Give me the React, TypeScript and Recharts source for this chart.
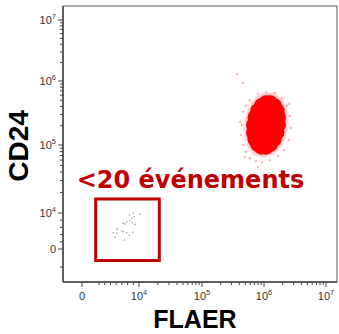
import React from 'react';
import { ScatterChart, Scatter, XAxis, YAxis, ReferenceArea } from 'recharts';

// raw intensities (FLAER on x, CD24 on y)
// outline of the dense population, going round from its right side
const mainFlaer = [
  1.68e6, 1.68e6, 1.6e6, 1.44e6, 1.26e6, 1.08e6, 9.25e5, 8.05e5, 7.29e5,
  6.9e5, 6.9e5, 7.27e5, 8.03e5, 9.18e5, 1.07e6, 1.25e6, 1.44e6, 1.59e6,
  1.12e6, 1.08e6, 1.04e6,
];
const mainCd24 = [
  2.05e5, 2.69e5, 3.41e5, 4.08e5, 4.48e5, 4.48e5, 4.08e5, 3.41e5, 2.69e5,
  2.05e5, 1.57e5, 1.24e5, 1.03e5, 9.44e4, 9.44e4, 1.03e5, 1.24e5, 1.57e5,
  2.94e5, 2.05e5, 1.43e5,
];

const edgeFlaer = [
  4.6e5, 4.4e5, 4.26e5, 4.6e5, 5.1e5, 5.9e5, 7.4e5, 9.3e5, 1.25e6, 1.68e6, 2.1e6,
  2.53e6, 2.7e6, 2.6e6, 2.35e6, 1.95e6, 1.5e6, 1.08e6, 8.0e5, 5.9e5, 5.1e5,
  3.67e5, 4.6e5, 2.53e6, 4.1e5, 8.0e5, 4.9e5,
];
const edgeCd24 = [
  3.3e5, 2.05e5, 1.43e5, 1.0e5, 7.9e4, 6.4e4, 5.8e4, 5.6e4, 6.0e4, 6.9e4, 8.4e4,
  1.2e5, 1.85e5, 2.84e5, 4.1e5, 5.4e5, 6.5e5, 6.7e5, 6.3e5, 5.0e5, 4.1e5,
  1.3e6, 9.3e5, 4.4e5, 2.3e5, 4.7e4, 6.7e4,
];

const gatedFlaer = [10400, 9000, 8300, 9180, 8720, 8420, 7840, 8880, 9300, 7250, 7540, 6190, 6960, 7250, 5490, 6090, 7840, 8880, 5790, 7420, 8300];
const gatedCd24 = [9640, 9920, 9440, 8970, 8530, 7860, 7580, 7310, 6860, 7140, 6940, 5470, 5080, 4810, 4530, 4360, 4530, 4640, 3250, 2500, 3810];

const gateFlaer = [2400, 21000];
const gateCd24 = [-3200, 16000];
const gateLabel = '<20 événements';

const majorTicks = [0, 1e4, 1e5, 1e6, 1e7];
const majorExps = [null, 4, 5, 6, 7];
const xLinearMinor = [3000, 4000, 5000, 6000, 7000, 8000, 9000];
const yLinearMinor = [-5000, 2000, 4000, 6000, 8000];

// logicle-like display scale: linear up to 1e4, then one width per decade
const X_LIN = 57;
const X_DEC = [63, 62, 62];
const Y_LIN = 36;
const Y_DEC = [68, 64, 61];

const logicle = (v: number, lin: number, dec: number[]) => {
  if (v <= 1e4) return (v / 1e4) * lin;
  let d = Math.log10(v) - 4;
  let acc = lin;
  for (let i = 0; i < dec.length; i++) {
    if (d <= 1 || i === dec.length - 1) return acc + d * dec[i];
    acc += dec[i];
    d -= 1;
  }
  return acc;
};
const tx = (v: number) => logicle(v, X_LIN, X_DEC);
const ty = (v: number) => logicle(v, Y_LIN, Y_DEC);

const decadeMinors: number[] = [];
[1e4, 1e5, 1e6].forEach((d) => {
  for (let k = 2; k <= 9; k++) decadeMinors.push(k * d);
});

type Tick = { pos: number; exp: number | null; major: boolean };
const buildTicks = (minor: number[], f: (v: number) => number): Tick[] =>
  [
    ...majorTicks.map((v, i) => ({ pos: f(v), exp: majorExps[i], major: true })),
    ...minor.map((v) => ({ pos: f(v), exp: null, major: false })),
  ].sort((a, b) => a.pos - b.pos);

const xTicks = buildTicks([...xLinearMinor, ...decadeMinors], tx);
const yTicks = buildTicks([...yLinearMinor, ...decadeMinors], ty);

const toPoints = (xs: number[], ys: number[]) => xs.map((v, i) => ({ x: tx(v), y: ty(ys[i]) }));
const mainData = toPoints(mainFlaer, mainCd24);
const edgeData = toPoints(edgeFlaer, edgeCd24);
const gatedData = toPoints(gatedFlaer, gatedCd24);

const FONT = '"Liberation Sans", Arial, sans-serif';
const AXIS = '#444';
const GATE = '#c00000';

const findTick = (list: Tick[], value: number) => list.find((t) => Math.abs(t.pos - value) < 1e-6);

const TickText = ({ x, y, exp, anchor }: any) => (
  <text x={x} y={y} textAnchor={anchor} fontFamily={FONT} fontSize={11} fill="#333">
    {exp == null ? (
      '0'
    ) : (
      <>
        <tspan>10</tspan>
        <tspan dy={-5} fontSize={7.5}>{exp}</tspan>
      </>
    )}
  </text>
);

const YTick = (props: any) => {
  const { x, y, payload } = props;
  const t = findTick(yTicks, payload.value);
  const major = !!t?.major;
  return (
    <g>
      <line x1={x - (major ? 5 : 3)} x2={x} y1={y} y2={y} stroke={AXIS} strokeWidth={1} />
      {major && <TickText x={x - 7} y={y + 4} exp={t!.exp} anchor="end" />}
    </g>
  );
};

const XTick = (props: any) => {
  const { x, y, payload } = props;
  const t = findTick(xTicks, payload.value);
  const major = !!t?.major;
  return (
    <g>
      <line x1={x} x2={x} y1={y} y2={y + (major ? 5 : 3)} stroke={AXIS} strokeWidth={1} />
      {major && <TickText x={x} y={y + 18} exp={t!.exp} anchor="middle" />}
    </g>
  );
};

const GateLabel = (props: any) => {
  const vb = props.viewBox || {};
  return (
    <text
      x={vb.x - 19}
      y={vb.y - 11}
      fontFamily='"DejaVu Sans", Verdana, sans-serif'
      fontWeight="bold"
      fontSize={24}
      fill={GATE}
    >
      {gateLabel}
    </text>
  );
};

const X_DOMAIN = [-19, 255];
const Y_DOMAIN = [-33, 243];

export default function App() {
  return (
    <div style={{ position: 'absolute', left: 0, top: 0, width: 339, height: 334, background: '#fff' }}>
      <ScatterChart width={339} height={334} margin={{ top: 6, right: 2, bottom: 22, left: 8 }}>
        <XAxis
          dataKey="x"
          type="number"
          domain={X_DOMAIN}
          ticks={xTicks.map((t) => t.pos)}
          interval={0}
          tick={<XTick />}
          tickLine={false}
          tickSize={0}
          tickMargin={0}
          height={30}
          axisLine={{ stroke: AXIS, strokeWidth: 1.5 }}
          allowDataOverflow
        />
        <YAxis
          dataKey="y"
          type="number"
          domain={Y_DOMAIN}
          ticks={yTicks.map((t) => t.pos)}
          interval={0}
          tick={<YTick />}
          tickLine={false}
          tickSize={0}
          tickMargin={0}
          width={55}
          axisLine={{ stroke: AXIS, strokeWidth: 1.5 }}
          allowDataOverflow
        />
        <ReferenceArea
          x1={X_DOMAIN[0]}
          x2={X_DOMAIN[1]}
          y1={Y_DOMAIN[0]}
          y2={Y_DOMAIN[1]}
          fill="none"
          fillOpacity={0}
          stroke="#555"
          strokeWidth={1}
        />
        <Scatter
          data={mainData}
          isAnimationActive={false}
          shape={(p: any) => <circle cx={p.cx} cy={p.cy} r={11} fill="#ff0000" fillOpacity={0.1} />}
        />
        <Scatter
          data={edgeData}
          isAnimationActive={false}
          shape={(p: any) => <circle cx={p.cx} cy={p.cy} r={1.2} fill="#ff0000" fillOpacity={0.3} />}
        />
        <Scatter
          data={mainData}
          isAnimationActive={false}
          shape={(p: any) => <circle cx={p.cx} cy={p.cy} r={8} fill="#ff0000" />}
        />
        <Scatter
          data={gatedData}
          isAnimationActive={false}
          shape={(p: any) => <circle cx={p.cx} cy={p.cy} r={0.8} fill="#999" />}
        />
        <ReferenceArea
          x1={tx(gateFlaer[0])}
          x2={tx(gateFlaer[1])}
          y1={ty(gateCd24[0])}
          y2={ty(gateCd24[1])}
          fill="none"
          fillOpacity={0}
          stroke={GATE}
          strokeWidth={3}
          label={<GateLabel />}
        />
      </ScatterChart>
      <svg
        width={339}
        height={334}
        style={{ position: 'absolute', left: 0, top: 0, pointerEvents: 'none' }}
      >
        <text
          transform="translate(28 146) rotate(-90)"
          textAnchor="middle"
          fontFamily={FONT}
          fontWeight="bold"
          fontSize={28}
          fill="#000"
        >
          CD24
        </text>
        <text x={195} y={328} textAnchor="middle" fontFamily={FONT} fontWeight="bold" fontSize={25} fill="#000">
          FLAER
        </text>
      </svg>
    </div>
  );
}
